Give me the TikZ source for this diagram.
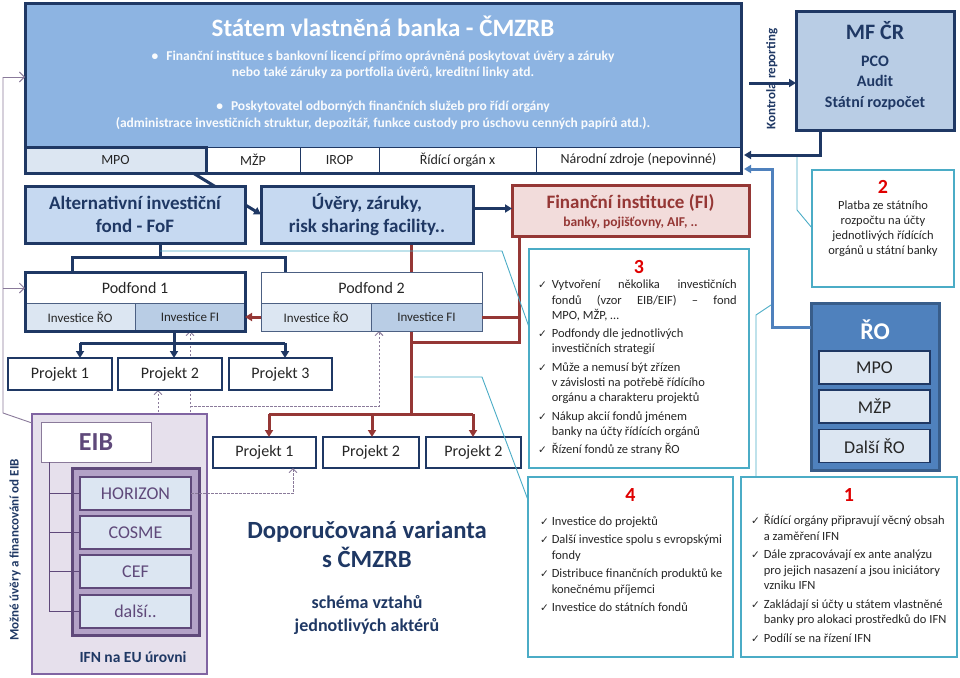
\documentclass[tikz,border=0pt]{standalone}
\usepackage{fontspec}
\setmainfont{Carlito}
\newfontfamily\dejavu{DejaVu Sans}
\usetikzlibrary{arrows.meta,calc,backgrounds}
\newcommand{\fsz}[2]{\fontsize{#1pt}{#2pt}\selectfont}
\newcommand{\ck}{{\dejavu\fontsize{10.5pt}{12pt}\selectfont ✓}}
\definecolor{navy}{HTML}{1F3864}
\definecolor{bankblue}{HTML}{8DB4E2}
\definecolor{lblue}{HTML}{C6D9F1}
\definecolor{pblue}{HTML}{DCE6F2}
\definecolor{mblue}{HTML}{B9CDE5}
\definecolor{roblue}{HTML}{4F81BD}
\definecolor{roborder}{HTML}{385D8A}
\definecolor{dred}{HTML}{953735}
\definecolor{pinkf}{HTML}{F2DCDB}
\definecolor{cyanb}{HTML}{4BACC6}
\definecolor{lav}{HTML}{E6E0EC}
\definecolor{purp}{HTML}{8064A2}
\definecolor{mpurp}{HTML}{B3A2C7}
\definecolor{dpurp}{HTML}{5F497A}
\definecolor{numred}{HTML}{E00000}
\definecolor{gpurp}{HTML}{8A7A9A}
\definecolor{txt}{HTML}{262626}
\begin{document}
\begin{tikzpicture}[x=1pt,y=-1pt,
  every node/.style={inner sep=0pt, outer sep=0pt},
  navytxt/.style={text=navy},
  cell/.style={draw=navy, line width=1pt, fill=white, minimum height=26pt, font=\fsz{14}{16}, text=txt},
  thickbox/.style={draw=navy, line width=3pt, fill=lblue, align=center, text=navy, font=\bfseries\fsz{19}{23}},
  projbox/.style={draw=navy, line width=2.5pt, fill=white, font=\fsz{16}{18}, text=txt},
  invcell/.style={draw=navy!80, line width=0.8pt, minimum width=110pt, minimum height=28pt, font=\fsz{13}{15}, text=txt},
  pfhead/.style={draw=navy!80, line width=0.8pt, fill=white, minimum height=31pt, font=\fsz{16}{18}, text=txt},
  robox/.style={draw=navy, line width=1.5pt, fill=pblue, minimum width=111pt, minimum height=33pt, font=\fsz{18}{20}, text=txt},
  cbox/.style={draw=cyanb, line width=1.3pt, fill=white},
  numtxt/.style={text=numred, font=\bfseries\fsz{20}{22}},
  listtxt/.style={text=txt, anchor=north west},
  eubox/.style={draw=dpurp, line width=1.8pt, fill=pblue, minimum width=111pt, minimum height=33pt, font=\fsz{18}{20}, text=dpurp},
  nline/.style={draw=navy, line width=3pt},
  narrow/.style={nline, -{Triangle[length=7pt,width=8pt]}},
  rline/.style={draw=dred, line width=3pt},
  rarrow/.style={rline, -{Triangle[length=7pt,width=8pt]}},
  barrow/.style={draw=roblue, line width=3pt, -{Triangle[length=7pt,width=8pt]}},
  cline/.style={draw=cyanb, line width=0.9pt},
  dline/.style={draw=gpurp, line width=0.9pt, dash pattern=on 2.5pt off 1.5pt, -{Straight Barb[length=4pt,width=8pt]}},
  gline/.style={draw=gpurp, line width=0.9pt},
  garrow/.style={gline, -{Straight Barb[length=5pt,width=10pt]}},
  plline/.style={draw=dpurp, line width=0.9pt}
]
\useasboundingbox (0,0) rectangle (960,677);

% ---------- bank ----------
\node[draw=navy, line width=3pt, fill=bankblue, minimum width=716pt, minimum height=169pt] (bank) at (383,88.5) {};
\node[cell, minimum width=94pt] (mzp) at (253,160) {MŽP};
\node[cell, minimum width=79pt] (irop) at (339.5,160) {IROP};
\node[cell, minimum width=157pt] (rox) at (457.5,160) {Řídící orgán x};
\node[cell, minimum width=205pt] (nz) at (638.5,160) {Národní zdroje (nepovinné)};
\node[cell, fill=pblue, line width=3pt, minimum width=181pt] (mpo) at (115.5,160) {MPO};
\draw[draw=navy, line width=3pt] (bank.north west) rectangle (bank.south east);
\node[text=white, font=\bfseries\fsz{25}{28}] (bankT) at (383,26) {Státem vlastněná banka - ČMZRB};
\node[text=white!95!bankblue, font=\bfseries\fsz{13.5}{16}, align=center] (bankB1) at (383,65) {•\hspace{8pt}Finanční instituce s bankovní licencí přímo oprávněná poskytovat úvěry a záruky\\nebo také záruky za portfolia úvěrů, kreditní linky atd.};
\node[text=white!95!bankblue, font=\bfseries\fsz{13.5}{17}, align=center] (bankB2) at (383,115.5) {•\hspace{8pt}Poskytovatel odborných finančních služeb pro řídí orgány\\(administrace investičních struktur, depozitář, funkce custody pro úschovu cenných papírů atd.).};

% ---------- MF CR ----------
\node[draw=navy, line width=3pt, fill=mblue, minimum width=158pt, minimum height=118pt] (mf) at (875,71) {};
\node[navytxt, font=\bfseries\fsz{22}{24}] (mfT) at (875,31) {MF ČR};
\node[navytxt, font=\bfseries\fsz{16}{20.5}, align=center] (mfB) at (875,83) {PCO\\Audit\\Státní rozpočet};
\node[navytxt, font=\bfseries\fsz{13}{15}, rotate=90] (kr) at (772,79) {Kontrola\hspace{4pt}reporting};
\coordinate (krs) at (749,83);
\draw[narrow] (krs) -- (krs -| mf.west);
\draw[narrow] ($(mf.south west)+(24,0)$) |- ($(nz.east)+(3,-5)$);

% ---------- RO ----------
\node[draw=roborder, line width=3pt, fill=roblue, minimum width=128pt, minimum height=167pt] (ro) at (875,386.5) {};
\node[text=white, font=\bfseries\fsz{24}{26}] (roT) at (875,330) {ŘO};
\node[robox] (ro1) at (874.5,367.5) {MPO};
\node[robox] (ro2) at (874.5,406.5) {MŽP};
\node[robox] (ro3) at (874.5,446) {Další ŘO};
\draw[barrow] ($(ro.north west)+(0,24)$) -- ++(-39,0) |- ($(nz.south east)+(3,-4)$);

% ---------- callout 2 ----------
\node[cbox, minimum width=142pt, minimum height=117pt] (c2) at (883,228.5) {};
\node[numtxt] (c2n) at (883,187) {2};
\node[text=txt, font=\fsz{12.5}{15}, align=center] (c2t) at (883,229) {Platba ze státního\\rozpočtu na účty\\jednotlivých řídících\\orgánů u státní banky};
\coordinate (p2) at (797,157);
\draw[cline] ($(c2.north west)+(0,58)$) -- (797,210) -- (p2);

% ---------- upper boxes ----------
\node[thickbox, minimum width=220pt, minimum height=57pt] (fof) at (135,214.5) {Alternativní investiční\\fond - FoF};
\node[thickbox, minimum width=212pt, minimum height=57pt] (uv) at (367,214.5) {Úvěry, záruky,\\risk sharing facility..};
\node[draw=dred, line width=3pt, fill=pinkf, minimum width=237pt, minimum height=51pt] (fi) at (630.5,210.5) {};
\node[text=dred, font=\bfseries\fsz{19}{21}] (fiT) at (630.5,203) {Finanční instituce (FI)};
\node[text=dred, font=\bfseries\fsz{13.5}{15}] (fiS) at (630.5,223) {banky, pojišťovny, AIF, ..};

% ---------- podfonds ----------
\node[pfhead, minimum width=220pt] (pf1) at (135,287.5) {Podfond 1};
\node[invcell, fill=pblue] (p1ro) at (80,317) {Investice ŘO};
\node[invcell, fill=mblue] (p1fi) at (190,317) {Investice FI};
\draw[draw=navy, line width=3pt] (pf1.north west) rectangle (p1fi.south east);
\node[pfhead, minimum width=221pt] (pf2) at (371.5,287.5) {Podfond 2};
\node[invcell, fill=pblue] (p2ro) at (316,317) {Investice ŘO};
\node[invcell, fill=mblue, minimum width=111pt] (p2fi) at (426.5,317) {Investice FI};

% ---------- projects ----------
\node[projbox, minimum width=104pt, minimum height=32pt] (pa1) at (60,374) {Projekt 1};
\node[projbox, minimum width=104pt, minimum height=32pt] (pa2) at (170,374) {Projekt 2};
\node[projbox, minimum width=103pt, minimum height=32pt] (pa3) at (280.5,374) {Projekt 3};
\node[projbox, minimum width=103pt, minimum height=31pt] (pb1) at (264.5,452.5) {Projekt 1};
\node[projbox, minimum width=96pt, minimum height=31pt] (pb2) at (371,452.5) {Projekt 2};
\node[projbox, minimum width=95pt, minimum height=31pt] (pb3) at (473.5,452.5) {Projekt 2};

% ---------- callouts 3,4,1 ----------
\node[cbox, minimum width=220pt, minimum height=219pt] (c3) at (639,358.5) {};
\node[numtxt] (c3n) at (639,267) {3};
\node[listtxt, font=\fsz{12.5}{15.3}] (c3l) at (538,278) {\begin{tabular}{@{}l@{\hspace{5pt}}l@{}}
\ck & \makebox[185pt][s]{Vytvoření několika investičních}\\
 & \makebox[185pt][s]{fondů (vzor EIB/EIF) – fond}\\
 & MPO, MŽP, …\\[3pt]
\ck & Podfondy dle jednotlivých\\
 & investičních strategií\\[3pt]
\ck & Může a nemusí být zřízen\\
 & v závislosti na potřebě řídícího\\
 & orgánu a charakteru projektů\\[3pt]
\ck & Nákup akcií fondů jménem\\
 & banky na účty řídících orgánů\\[3pt]
\ck & Řízení fondů ze strany ŘO
\end{tabular}};

\node[cbox, minimum width=205pt, minimum height=180pt] (c4) at (630.5,567) {};
\node[numtxt] (c4n) at (630.5,495) {4};
\node[listtxt, font=\fsz{12.5}{16}] (c4l) at (540,514) {\begin{tabular}{@{}l@{\hspace{3pt}}l@{}}
\ck & Investice do projektů\\[2pt]
\ck & Další investice spolu s evropskými\\
 & fondy\\[2pt]
\ck & Distribuce finančních produktů ke\\
 & konečnému příjemci\\[2pt]
\ck & Investice do státních fondů
\end{tabular}};

\node[cbox, minimum width=216pt, minimum height=180pt] (c1) at (849,567) {};
\node[numtxt] (c1n) at (849,495) {1};
\node[listtxt, font=\fsz{12.5}{15.3}] (c1l) at (751,514) {\begin{tabular}{@{}l@{\hspace{4pt}}l@{}}
\ck & Řídící orgány připravují věcný obsah\\
 & a zaměření IFN\\[3.5pt]
\ck & Dále zpracovávají ex ante analýzu\\
 & pro jejich nasazení a jsou iniciátory\\
 & vzniku IFN\\[3.5pt]
\ck & Zakládají si účty u státem vlastněné\\
 & banky pro alokaci prostředků do IFN\\[3.5pt]
\ck & Podílí se na řízení IFN
\end{tabular}};

% ---------- EU area ----------
\node[draw=purp, line width=1.8pt, fill=lav, minimum width=175pt, minimum height=260pt] (ifn) at (119.5,544) {};
\node[draw=gpurp, line width=0.9pt, fill=white, minimum width=110pt, minimum height=40pt, text=dpurp, font=\bfseries\fsz{26}{28}] (eib) at (96,442) {EIB};
\node[draw=dpurp, line width=3pt, fill=mpurp, minimum width=127pt, minimum height=167pt] (inner) at (135.5,551.5) {};
\node[eubox] (hz) at (135.5,493.5) {HORIZON};
\node[eubox] (co) at (135.5,532.5) {COSME};
\node[eubox] (ce) at (135.5,571.5) {CEF};
\node[eubox] (dal) at (135.5,611.5) {další..};
\node[navytxt, font=\bfseries\fsz{15.5}{17}] (ifnT) at (133,657) {IFN na EU úrovni};
\coordinate (e0) at ($(eib.south west)+(8,0)$);
\draw[plline] (e0) |- (dal.west);
\foreach \n in {hz,co,ce} \draw[plline] (e0 |- \n.west) -- (\n.west);
\node[navytxt, font=\bfseries\fsz{13}{15}, rotate=90] (mozne) at (15,550) {Možné úvěry a financování od EIB};

% ---------- centre text ----------
\node[navytxt, font=\bfseries\fsz{24.7}{29}, align=center] (dop) at (367,544.5) {Doporučovaná varianta\\s ČMZRB};
\node[navytxt, font=\bfseries\fsz{18}{23}, align=center] (sch) at (367,614.5) {schéma vztahů\\jednotlivých aktérů};

% ---------- hidden connectors ----------
\begin{pgfonlayer}{background}
\draw[narrow] ($(mpo.south east)+(-13,0)$) -- (uv.west);
\draw[rline] ($(uv.south east)+(-62,0)$) -- ++(0,171);
\coordinate (d1) at (190,406);
\coordinate (d2) at ($(inner.north)+(22.5,0)$);
\draw[dline] ($(inner.north)+(54.5,0)$) -- (d1) -- (d1 |- p1fi.south);
\draw[dline] (d1) -| ($(p2fi.south west)+(8,0)$);
\draw[dline] (d2) -- (d2 |- pa2.south);
\end{pgfonlayer}

% ---------- navy connectors ----------
\coordinate (t2) at (160,257);
\draw[nline] (fof.south -| t2) -- (t2);
\draw[nline] ($(pf1.north west)+(47,0)$) |- (t2) -| ($(pf2.north west)+(24,0)$);
\draw[narrow] ($(uv.east)+(0,-6)$) -- ($(fi.west)+(0,-2)$);
\coordinate (t1) at (174,343);
\draw[nline] (p1fi.south -| t1) -- (t1);
\draw[nline] ($(pa1.north)+(20,-15)$) -- ($(pa3.north)+(4.5,-15)$);
\draw[narrow] ($(pa1.north)+(20,-15)$) -- ($(pa1.north)+(20,0)$);
\draw[narrow] (t1) -- (t1 |- pa2.north);
\draw[narrow] ($(pa3.north)+(4.5,-15)$) -- ($(pa3.north)+(4.5,0)$);

% ---------- red connectors ----------
\coordinate (r0) at (411,414);
\draw[rline] ($(pb1.north)+(4.5,-23)$) -- ($(pb3.north)+(-0.5,-23)$);
\draw[rarrow] ($(pb1.north)+(4.5,-23)$) -- ($(pb1.north)+(4.5,0)$);
\draw[rarrow] ($(pb2.north)+(1,-23)$) -- ($(pb2.north)+(1,0)$);
\draw[rarrow] ($(pb3.north)+(-0.5,-23)$) -- ($(pb3.north)+(-0.5,0)$);
\coordinate (r1) at (519,342);
\draw[rline] ($(fi.south west)+(7,0)$) -- (r1) -- (r1 -| r0);
\draw[rline] (p2fi.east) -- (p2fi.east -| r1);
\draw[rarrow] (p2ro.west) -- (p1fi.east);

% ---------- dashed to lower project ----------
\coordinate (d3) at (293,493.5);
\draw[dline] (hz.east) -- (d3) -- (d3 |- pb1.south);

% ---------- cyan pointers ----------
\coordinate (p3) at (160,251);
\draw[cline] (p3) -- (502,251) -- ($(c3.north west)+(0,78)$);
\coordinate (p4) at (414,377);
\draw[cline] (p4) -- (482,377) -- ($(c4.north west)+(0,23)$);
\coordinate (p1) at (771,305);
\draw[cline] (p1) -- (756,315) -- ($(c1.north west)+(15,0)$);

% ---------- left grey line ----------
\coordinate (l1) at (3,77);
\coordinate (l2) at (3,288);
\draw[gline] ($(ifn.north west)+(0,9)$) -- (3,413) -- (l1);
\draw[garrow] (l1) -- (l1 -| bank.west);
\draw[garrow] (l2) -- (l2 -| pf1.west);
\end{tikzpicture}
\end{document}
